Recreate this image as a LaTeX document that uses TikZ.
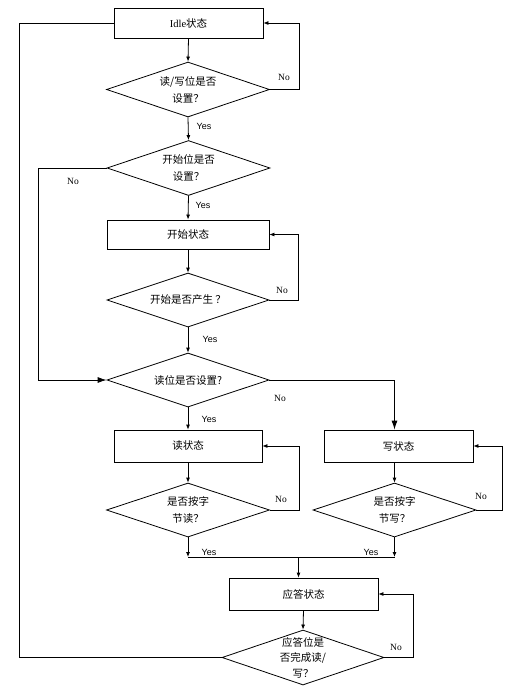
\documentclass[tikz,border=0pt]{standalone}
\usepackage{fontspec}
\setmainfont{Liberation Serif}
\newfontfamily\cjk{Noto Sans CJK SC}
\newfontfamily\yesfont{Liberation Sans}
\usetikzlibrary{shapes.geometric,arrows.meta}
\tikzset{
  box/.style={draw,rectangle,line width=0.8pt,minimum height=30pt,font=\cjk\fontsize{10.5}{13}\selectfont},
  dia/.style={draw,diamond,line width=0.8pt,inner sep=0pt,minimum width=163pt,minimum height=55pt},
  dtext/.style={align=center,font=\cjk\fontsize{10.5}{17}\selectfont},
  ln/.style={line width=0.8pt},
  arr/.style={line width=0.8pt,-{Latex[length=5pt,width=4pt]}},
  bigarr/.style={line width=0.8pt,-{Latex[length=9pt,width=6pt]}},
  yes/.style={font=\yesfont\fontsize{9}{10}\selectfont},
  no/.style={font=\fontsize{9.5}{10}\selectfont}
}
\begin{document}
\begin{tikzpicture}[x=1pt,y=-1pt]
\useasboundingbox (0,0) rectangle (523,694);
% nodes
\node[box,minimum width=149pt] (idle) at (188.5,23) {{\rmfamily Idle}状态};
\node[dia] (d1) at (188,89.5) {};
\node[dtext] (t1) at (d1) {读/写位是否\\设置？};
\node[dia] (d2) at (188.5,168) {};
\node[dtext] (t2) at (d2) {开始位是否\\设置？};
\node[box,minimum width=162pt,minimum height=29pt] (start) at (188,234.5) {开始状态};
\node[dia,minimum width=162pt,minimum height=54pt] (d3) at (188,300) {};
\node[dtext] (t3) at (d3) {开始是否产生 ？};
\node[dia,minimum width=162pt,minimum height=54pt] (d4) at (188,380) {};
\node[dtext] (t4) at (d4) {读位是否设置?};
\node[box,minimum width=148pt,minimum height=32pt] (rd) at (188,446) {读状态};
\node[box,minimum width=149pt,minimum height=32pt] (wr) at (398.5,446) {写状态};
\node[dia,minimum height=54pt] (d5) at (188,510) {};
\node[dtext] (t5) at (d5) {是否按字\\节读？};
\node[dia,minimum height=54pt] (d6) at (394.5,510) {};
\node[dtext] (t6) at (d6) {是否按字\\节写？};
\node[box,minimum width=149pt,minimum height=32pt] (ack) at (303.5,594) {应答状态};
\node[dia,minimum width=162pt] (d7) at (303,657.5) {};
\node[dtext,font=\cjk\fontsize{10.5}{15.5}\selectfont] (t7) at (d7) {应答位是\\否完成读/\\写？};
\coordinate (j1) at (188,557);
\coordinate (j2) at (394.5,557);
\coordinate (j3) at (298.5,557);
% connectors
\draw[arr] (idle.south) -- (d1.north);
\draw[arr] (d1.east) -- ++(29,0) |- (idle.east);
\draw[arr] (d1.south) -- (d2.north);
\draw[bigarr] (d2.west) -- ++(-68.5,0) |- (d4.west);
\draw[arr] (d2.south) -- (start.north);
\draw[arr] (start.south) -- (d3.north);
\draw[arr] (d3.east) -- ++(29,0) |- (start.east);
\draw[arr] (d3.south) -- (d4.north);
\draw[bigarr] (d4.east) -| (wr.north -| d6.north);
\draw[arr] (d4.south) -- (rd.north);
\draw[arr] (rd.south) -- (d5.north);
\draw[arr] (d5.east) -- ++(29,0) |- (rd.east);
\draw[arr] (wr.south -| d6.north) -- (d6.north);
\draw[arr] (d6.east) -- ++(26,0) |- (wr.east);
\draw[arr] (d5.south) -- (j1);
\draw[arr] (d6.south) -- (j2);
\draw[ln] (j1) -- (j2);
\draw[arr] (j3) -- (j3 |- ack.north);
\draw[arr] (ack.south) -- (d7.north);
\draw[arr] (d7.east) -- ++(29,0) |- (ack.east);
\draw[ln] (d7.west) -- ++(-202,0) |- (idle.west);
% labels
\node[no] (n1) at (284,77) {No};
\node[no] (n2) at (73,181) {No};
\node[no] (n3) at (282,290) {No};
\node[no] (n4) at (280,398) {No};
\node[no] (n5) at (281,499) {No};
\node[no] (n6) at (481,496) {No};
\node[no] (n7) at (396,647) {No};
\node[yes] (y1) at (204,126) {Yes};
\node[yes] (y2) at (203,205) {Yes};
\node[yes] (y3) at (210,339) {Yes};
\node[yes] (y4) at (209,419) {Yes};
\node[yes] (y5) at (209,552) {Yes};
\node[yes] (y6) at (371,552) {Yes};
\end{tikzpicture}
\end{document}
